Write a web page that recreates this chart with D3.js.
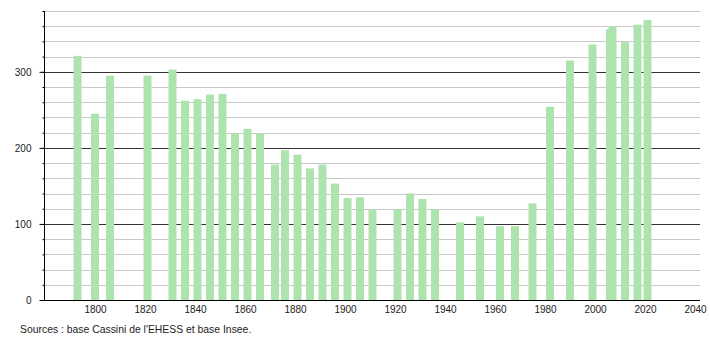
<!DOCTYPE html>
<html>
<head>
<meta charset="utf-8">
<script src="https://cdn.jsdelivr.net/npm/d3@7"></script>
<style>
  body { margin: 0; background: #fff; }
  svg { display: block; font-family: "Liberation Sans", Arial, sans-serif; }
</style>
</head>
<body>
<svg id="chart" width="710" height="340"></svg>
<script>
const years = [1793, 1800, 1806, 1821, 1831, 1836, 1841, 1846, 1851, 1856,
  1861, 1866, 1872, 1876, 1881, 1886, 1891, 1896, 1901, 1906, 1911, 1921,
  1926, 1931, 1936, 1946, 1954, 1962, 1968, 1975, 1982, 1990, 1999, 2006,
  2007, 2012, 2017, 2021];
const population = [321, 245, 295, 295, 303, 262, 264, 270, 271, 219,
  225, 219, 178, 197, 191, 173, 178, 153, 134, 135, 119, 119,
  140, 133, 119, 102, 110, 97, 97, 127, 254, 315, 336, 356,
  360, 339, 362, 368];
const x_ticks = [1800, 1820, 1840, 1860, 1880, 1900, 1920, 1940, 1960, 1980, 2000, 2020, 2040];
const y_major = [0, 100, 200, 300];
const source_text = "Sources : base Cassini de l'EHESS et base Insee.";

const svg = d3.select("#chart");
const margin = { left: 44, right: 10, top: 11, bottom: 40 };
const width = 710, height = 340;

const x = d3.scaleLinear()
  .domain([1779.6, 2042])
  .range([margin.left, width - margin.right]);

const y = d3.scaleLinear()
  .domain([0, 380])
  .range([height - margin.bottom, margin.top]);

const y_minor = d3.range(0, 381, 20);

// gridlines
svg.append("g")
  .selectAll("line")
  .data(y_minor.filter(d => !y_major.includes(d)))
  .join("line")
  .attr("x1", margin.left)
  .attr("x2", width - margin.right)
  .attr("y1", d => Math.round(y(d)) + 0.5)
  .attr("y2", d => Math.round(y(d)) + 0.5)
  .attr("stroke", "#c8c8c8");

svg.append("g")
  .selectAll("line")
  .data(y_major.filter(d => d > 0))
  .join("line")
  .attr("x1", margin.left)
  .attr("x2", width - margin.right)
  .attr("y1", d => Math.round(y(d)) + 0.5)
  .attr("y2", d => Math.round(y(d)) + 0.5)
  .attr("stroke", "#333");

// bars
const bar_w = 8;
svg.append("g")
  .selectAll("rect")
  .data(years.map((yr, i) => ({ year: yr, value: population[i] })))
  .join("rect")
  .attr("x", d => x(d.year) - bar_w / 2)
  .attr("width", bar_w)
  .attr("y", d => y(d.value))
  .attr("height", d => y(0) - y(d.value))
  .attr("fill", "#ade3ad");

// y axis: minor ticks, then major ticks with labels
svg.append("g")
  .attr("transform", `translate(${ margin.left + 0.5 },0)`)
  .call(d3.axisLeft(y).tickValues(y_minor).tickSize(2).tickFormat(""))
  .call(g => g.select(".domain").remove())
  .call(g => g.selectAll(".tick line").attr("stroke", "#000"));

svg.append("g")
  .attr("transform", `translate(${ margin.left + 0.5 },0)`)
  .call(d3.axisLeft(y).tickValues(y_major).tickSize(5).tickPadding(8).tickFormat(d3.format("d")))
  .call(g => g.select(".domain").attr("stroke", "#000").attr("d", `M0,${ y(380) }V${ y(0) }`))
  .call(g => g.selectAll(".tick line").attr("stroke", "#000"))
  .call(g => g.selectAll(".tick text")
    .attr("font-size", 10)
    .attr("font-family", "Liberation Sans, Arial, sans-serif")
    .attr("fill", "#222"));

// x axis
svg.append("g")
  .attr("transform", `translate(0,${ Math.round(y(0)) + 0.5 })`)
  .call(d3.axisBottom(x).tickValues(x_ticks).tickSize(0).tickPadding(5).tickFormat(d3.format("d")))
  .call(g => g.select(".domain").attr("stroke", "#000").attr("d", `M${ margin.left },0H${ width - margin.right }`))
  .call(g => g.selectAll(".tick text")
    .attr("font-size", 10)
    .attr("font-family", "Liberation Sans, Arial, sans-serif")
    .attr("fill", "#222"));

svg.append("text")
  .attr("x", 20)
  .attr("y", 333)
  .attr("font-size", 10.4)
  .attr("fill", "#222")
  .text(source_text);
</script>
</body>
</html>
